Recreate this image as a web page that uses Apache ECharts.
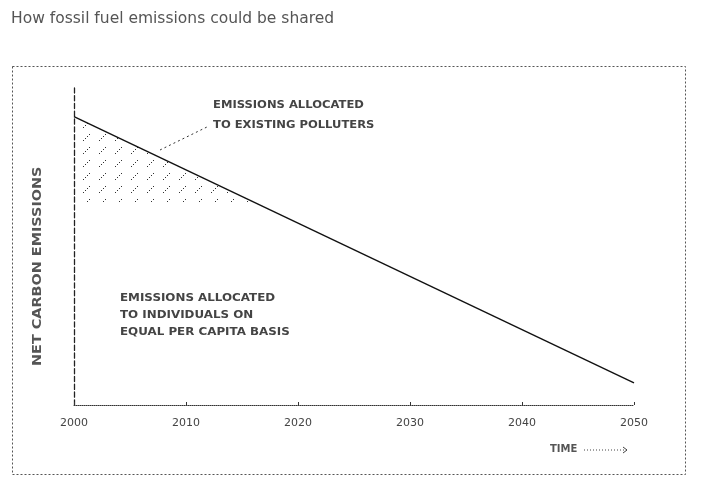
<!DOCTYPE html>
<html>
<head>
<meta charset="utf-8">
<script src="https://cdn.jsdelivr.net/npm/echarts@6/dist/echarts.min.js"></script>
<style>
  html, body { margin: 0; padding: 0; background: #fff; }
  #chart { width: 702px; height: 488px; }
</style>
</head>
<body>
<div id="chart"></div>
<script>
// data (y axis has no scale, 0..100 arbitrary units)
const years = [2000, 2010, 2020, 2030, 2040, 2050];
const lineYears = [2000, 2050];
const netEmissions = [91, 7];
// shaded share: corner points of the hatched triangle
const hatchYears = [2000, 2000, 2016];
const hatchValues = [91, 64, 64];

const ink = '#333';
const font = 'DejaVu Sans';

// diagonal hatch tile
function hatchTile() {
    let c = document.createElement('canvas');
    c.width = 16;
    c.height = 13;
    let g = c.getContext('2d');
    g.fillStyle = '#333';
    for (let i = 0; i < 4; i++) {
        g.fillRect(3 + i * 2, 10 - i * 2, 1, 1);
    }
    return c;
}

let chart = echarts.init(document.getElementById('chart'), null, { renderer: 'canvas' });

let option = {
    backgroundColor: '#fff',
    animation: false,
    grid: { left: 74, right: 68, top: 88, bottom: 83 },
    xAxis: {
        type: 'value',
        min: years[0],
        max: years[years.length - 1],
        interval: 10,
        axisLine: { lineStyle: { color: ink, type: 'dotted', width: 1 } },
        axisTick: { show: true, length: 3, inside: true, lineStyle: { color: ink } },
        axisLabel: {
            color: '#444', fontFamily: font, fontSize: 11, margin: 13,
            formatter: v => String(v)
        },
        splitLine: { show: false }
    },
    yAxis: {
        type: 'value',
        min: 0,
        max: 100,
        axisLine: { show: true, lineStyle: { color: '#222', type: 'dashed', width: 1.3 } },
        axisTick: { show: false },
        axisLabel: { show: false },
        splitLine: { show: false }
    },
    series: [
        {
            type: 'custom',
            silent: true,
            data: [0],
            renderItem: (params, api) => {
                let pts = hatchYears.map((y, i) => api.coord([y, hatchValues[i]]));
                return {
                    type: 'polygon',
                    shape: { points: pts },
                    style: { fill: { image: hatchTile(), repeat: 'repeat' }, stroke: null }
                };
            }
        },
        {
            type: 'line',
            data: lineYears.map((y, i) => [y, netEmissions[i]]),
            symbol: 'none',
            lineStyle: { color: '#111', width: 1.4 }
        }
    ],
    graphic: [
        {
            type: 'text', left: 11, top: 11,
            style: { text: 'How fossil fuel emissions could be shared', fill: '#555', font: '15.5px "DejaVu Sans"' }
        },
        {
            type: 'rect', left: 10, top: 64,
            shape: { width: 673, height: 408 },
            style: { fill: null, stroke: '#555', lineWidth: 1, lineDash: [2, 2] }
        },
        {
            type: 'text', x: 32, y: 366, rotation: Math.PI / 2, scaleX: 1.2,
            style: { text: 'NET CARBON EMISSIONS', fill: '#555', font: 'bold 12px "DejaVu Sans"', align: 'left', verticalAlign: 'top' }
        },
        {
            type: 'text', x: 213, y: 95, scaleX: 1.05,
            style: { text: 'EMISSIONS ALLOCATED\nTO EXISTING POLLUTERS', fill: '#444', font: 'bold 11px "DejaVu Sans"', lineHeight: 20 }
        },
        {
            type: 'line',
            shape: { x1: 160, y1: 150, x2: 209, y2: 126 },
            style: { stroke: '#333', lineWidth: 1, lineDash: [2, 3] }
        },
        {
            type: 'text', x: 120, y: 290, scaleX: 1.08,
            style: { text: 'EMISSIONS ALLOCATED\nTO INDIVIDUALS ON\nEQUAL PER CAPITA BASIS', fill: '#444', font: 'bold 11px "DejaVu Sans"', lineHeight: 17 }
        },
        {
            type: 'text', left: 550, top: 444,
            style: { text: 'TIME', fill: '#555', font: 'bold 10px "DejaVu Sans"' }
        },
        {
            type: 'line',
            shape: { x1: 584, y1: 450, x2: 627, y2: 450 },
            style: { stroke: '#444', lineWidth: 1, lineDash: [1, 2] }
        },
        {
            type: 'polyline',
            shape: { points: [[623, 447], [627, 450], [623, 453]] },
            style: { stroke: '#444', fill: null, lineWidth: 1 }
        }
    ]
};

chart.setOption(option);
</script>
</body>
</html>
